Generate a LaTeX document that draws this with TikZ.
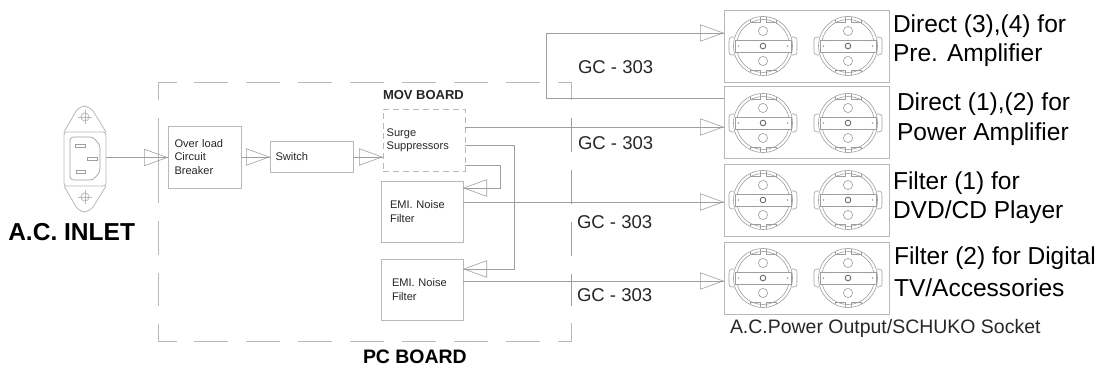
\documentclass[tikz,border=0pt]{standalone}
\usepackage{fontspec}
\setmainfont{Liberation Sans}
\usetikzlibrary{arrows.meta,calc}
\definecolor{ln}{gray}{0.62}
\definecolor{bx}{gray}{0.72}
\definecolor{tx}{gray}{0.15}
\tikzset{
  x=0.75pt,y=-0.75pt,
  box/.style={draw=bx,line width=0.7pt,anchor=north west,inner sep=0pt,outer sep=0pt,align=left,font=\fontsize{8.3}{10}\selectfont,text=tx},
  sock/.style={draw=bx,line width=0.6pt,anchor=north west,inner sep=0pt,outer sep=0pt,minimum width=123.75pt,minimum height=54pt},
  wire/.style={draw=ln,line width=0.55pt},
  conn/.style={wire,preaction={draw=ln,line width=0.55pt,arrows=-},-{Triangle[open,length=18pt,width=13pt,line width=0.45pt]}},
  lab/.style={anchor=west,inner sep=0pt,outer sep=0pt,text=tx},
  gc/.style={lab,font=\fontsize{13.9}{16}\selectfont},
  big/.style={anchor=west,inner sep=0pt,outer sep=0pt,font=\fontsize{18.4}{22}\selectfont,text=black},
  brd/.style={draw=bx,line width=0.65pt},
  brddash/.style={brd,dash pattern=on 25.5pt off 13.5pt},
  sk/.style={draw=ln,line width=0.45pt},
  pics/schuko/.style={code={
    \draw[sk] (0,0) circle (29.5);
    \draw[sk] (0,0) circle (26.5);
    \draw[sk] (-29,-9) -- (-31,-9) .. controls (-34,-9) and (-34,-7) .. (-34,-5) -- (-34,5) .. controls (-34,7) and (-34,9) .. (-31,9) -- (-29,9);
    \draw[sk] (29,-9) -- (31,-9) .. controls (34,-9) and (34,-7) .. (34,-5) -- (34,5) .. controls (34,7) and (34,9) .. (31,9) -- (29,9);
    \draw[sk,line width=0.6pt,fill=white] (-28,-6) rectangle (28,6);
    \draw[sk] (0,-15) circle (4.6) (0,15) circle (4.6);
    \draw[draw=ln!70!black,line width=0.7pt] (0,0) circle (2.8);
    \draw[sk] (-3,-29) -- (-3,-24) -- (-13,-24) -- (-13,-26)
              (3,-29) -- (3,-24) -- (13,-24) -- (13,-26)
              (-3,29) -- (-3,24) -- (-13,24) -- (-13,26)
              (3,29) -- (3,24) -- (13,24) -- (13,26);
    \fill[ln] (-24.5,0) circle (0.8) (24.5,0) circle (0.8);
  }}
}
\begin{document}
\begin{tikzpicture}
\useasboundingbox (0,0) rectangle (1099,367);
% PC board outline
\draw[brd] (177,82) -- (158,82) -- (158,100);
\draw[brddash] (194,82) -- (558,82);
\draw[brd] (558,82) -- (571,82) -- (571,100);
\draw[brd] (158,118) -- (158,203);
\draw[brddash] (158,221) -- (158,306);
\draw[brd] (158,324) -- (158,341.5) -- (177,341.5);
\draw[brddash] (194,341.5) -- (558,341.5);
\draw[brd] (558,341.5) -- (571,341.5) -- (571,323);
\draw[brddash,draw=ln] (571,118) -- (571,306);
% Boxes
\node[box,minimum width=54.75pt,minimum height=46.5pt,text width=51pt] (olcb) at (168,126) {\hspace*{3pt}Over load\\\hspace*{3pt}Circuit\\\hspace*{3pt}Breaker};
\node[box,minimum width=62.25pt,minimum height=23.25pt,text width=60pt] (sw) at (270,141) {\hspace*{3pt}Switch};
\node[box,dashed,dash pattern=on 4.5pt off 3pt,minimum width=61.5pt,minimum height=46.5pt,text width=60pt] (surge) at (383,109) {\hspace*{2pt}Surge\\\hspace*{2pt}Suppressors};
\node[box,minimum width=61.5pt,minimum height=46pt,text width=60pt] (emia) at (381,181) {\hspace*{6pt}EMI. Noise\\\hspace*{6pt}Filter};
\node[box,minimum width=61.5pt,minimum height=46pt,text width=60pt] (emib) at (381,259) {\hspace*{7.5pt}EMI. Noise\\\hspace*{7.5pt}Filter};
\node[sock] (s1) at (724,10) {};
\node[sock] (s2) at (724,86) {};
\node[sock] (s3) at (724,164) {};
\node[sock] (s4) at (724,242) {};
\foreach \yy in {46,123,200,278}{
  \pic at (763,\yy) {schuko};
  \pic at (848,\yy) {schuko};
}
% Inlet
\node[minimum width=31.5pt,minimum height=40.5pt,inner sep=0pt,outer sep=0pt,anchor=north west] (inlet) at (64,132) {};
\draw[draw=bx,line width=0.6pt,rounded corners=2pt] (64,132) rectangle (106,186);
\draw[draw=bx,line width=0.6pt,rounded corners=5pt] (64,132) -- (79,106) -- (90,106) -- (106,132);
\draw[draw=bx,line width=0.6pt,rounded corners=5pt] (64,186) -- (79,212) -- (90,212) -- (106,186);
\draw[draw=ln,line width=0.5pt,rounded corners=2.5pt] (70,137) -- (93,137) -- (100,145) -- (100,172) -- (93,180) -- (70,180) -- cycle;
\draw[draw=ln,line width=0.45pt] (75,144) rectangle (85,147) (87,157) rectangle (97,160) (76,170) rectangle (85,173);
\foreach \yy in {117,197}{
  \draw[draw=bx,line width=0.6pt] (85,\yy) circle (4);
  \draw[draw=bx,line width=0.4pt] (85,\yy-7) -- (85,\yy+7) (78,\yy) -- (92,\yy);
}
% Connectors
\draw[conn] (inlet.east |- 0,157.5) -- (olcb.west |- 0,157.5);
\draw[conn] (olcb.east |- 0,157) -- (sw.west |- 0,157);
\draw[conn] (sw.east |- 0,157) -- (surge.west |- 0,157);
\draw[conn] (surge.east |- 0,127) -- (s2.west |- 0,127);
\draw[conn] (surge.east |- 0,145) -- (514,145) -- (514,269) -- (emib.east |- 0,269);
\draw[conn] (surge.east |- 0,165) -- (500,165) -- (500,188) -- (emia.east |- 0,188);
\draw[conn] (emia.east |- 0,202) -- (s3.west |- 0,202);
\draw[conn] (emib.east |- 0,281) -- (s4.west |- 0,281);
\draw[conn] (s2.west |- 0,98) -- (546,98) -- (546,33) -- (s1.west |- 0,33);
% Labels
\node[lab,font=\bfseries\fontsize{9.75}{12}\selectfont] (mov) at (383,95.5) {MOV BOARD};
\node[anchor=west,inner sep=0pt,font=\bfseries\fontsize{18.4}{22}\selectfont] (ac) at (8,232) {A.C. INLET};
\node[lab,text=black,font=\bfseries\fontsize{14.6}{17}\selectfont] (pc) at (363,356.5) {PC BOARD};
\node[gc] (g1) at (578,67) {GC - 303};
\node[gc] (g2) at (578,143) {GC - 303};
\node[gc] (g3) at (577,222) {GC - 303};
\node[gc] (g4) at (577,295) {GC - 303};
\node[big] (t1a) at (893,26) {Direct (3),(4) for};
\node[big] (t1b) at (893,55) {Pre. Amplifier};
\node[big] (t2a) at (897,104) {Direct (1),(2) for};
\node[big] (t2b) at (897,134) {Power Amplifier};
\node[big] (t3a) at (893,183) {Filter (1) for};
\node[big] (t3b) at (893,212) {DVD/CD Player};
\node[big] (t4a) at (894,258) {Filter (2) for Digital};
\node[big] (t4b) at (894,288) {TV/Accessories};
\node[lab,font=\fontsize{14.6}{17}\selectfont] (cap) at (730,328) {A.C.Power Output/SCHUKO Socket};
\end{tikzpicture}
\end{document}
